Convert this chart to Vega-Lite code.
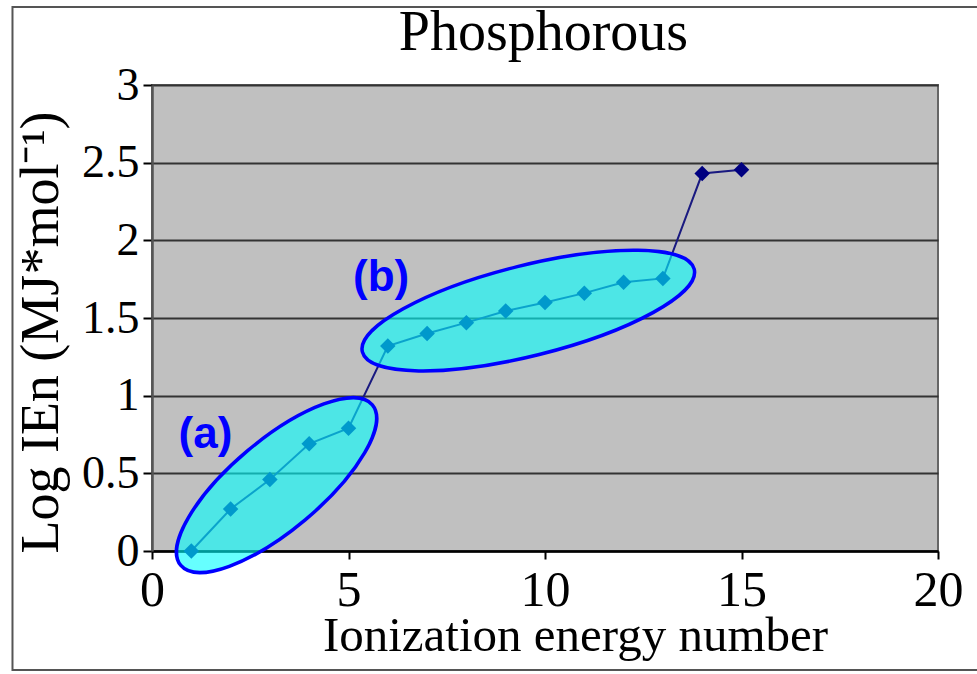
{
  "$schema": "https://vega.github.io/schema/vega-lite/v6.json",
  "autosize": {"type": "none"},
  "padding": {"left": 152, "top": 85, "right": 39, "bottom": 123},
  "width": 786,
  "height": 466,
  "background": "white",
  "config": {
    "view": {"fill": "#c0c0c0", "stroke": "#666666", "strokeWidth": 2}
  },
  "datasets": {
    "ie": [
      {"n": 1, "v": 0.0},
      {"n": 2, "v": 0.27},
      {"n": 3, "v": 0.46},
      {"n": 4, "v": 0.69},
      {"n": 5, "v": 0.79},
      {"n": 6, "v": 1.32},
      {"n": 7, "v": 1.40},
      {"n": 8, "v": 1.47},
      {"n": 9, "v": 1.545},
      {"n": 10, "v": 1.60},
      {"n": 11, "v": 1.66},
      {"n": 12, "v": 1.73},
      {"n": 13, "v": 1.755},
      {"n": 14, "v": 2.43},
      {"n": 15, "v": 2.455}
    ],
    "frame": [{"n": -3.55, "n2": 21.5, "v": -0.766, "v2": 3.502}],
    "heading": [{"n": 9.96, "v": 3.225, "label": "Phosphorous"}],
    "groupA": [{"n": 3.17, "v": 0.424}],
    "groupB": [{"n": 9.575, "v": 1.548}],
    "labels": [
      {"n": 1.36, "v": 0.749, "label": "(a)"},
      {"n": 5.83, "v": 1.756, "label": "(b)"}
    ]
  },
  "encoding": {
    "x": {
      "field": "n", "type": "quantitative",
      "scale": {"domain": [0, 20], "nice": false, "zero": false},
      "axis": {
        "title": "Ionization energy number",
        "values": [0, 5, 10, 15, 20],
        "grid": false,
        "domainColor": "black", "domainWidth": 2.5,
        "tickColor": "black", "tickWidth": 2, "tickSize": 8,
        "labelFont": "Liberation Serif", "labelFontSize": 50, "labelColor": "black",
        "labelBaseline": "alphabetic", "labelPadding": 46, "labelFlush": false,
        "titleFont": "Liberation Serif", "titleFontSize": 49, "titleFontWeight": "normal", "titleColor": "black",
        "titleX": 423, "titleY": 99, "titleBaseline": "alphabetic"
      }
    },
    "y": {
      "field": "v", "type": "quantitative",
      "scale": {"domain": [0, 3], "nice": false, "zero": false},
      "axis": {
        "title": "Log IEn (MJ*mol⁻¹)",
        "values": [0, 0.5, 1, 1.5, 2, 2.5, 3],
        "format": "~g",
        "grid": true, "gridColor": "#333333", "gridWidth": 2, "gridOpacity": 1,
        "domainColor": "#555555", "domainWidth": 2.5,
        "tickColor": "black", "tickWidth": 2, "tickSize": 9,
        "labelFont": "Liberation Serif", "labelFontSize": 46, "labelColor": "black",
        "labelPadding": 4, "labelBaseline": "middle",
        "titleFont": "Liberation Serif", "titleFontSize": 54, "titleFontWeight": "normal", "titleColor": "black",
        "titleX": -111, "titleY": 247, "titleBaseline": "middle", "titleAlign": "center", "titleAngle": -90
      }
    }
  },
  "layer": [
    {
      "data": {"name": "frame"},
      "mark": {"type": "rect", "fill": null, "fillOpacity": 0, "stroke": "#555555", "strokeWidth": 2, "clip": false},
      "encoding": {
        "x2": {"field": "n2"},
        "y2": {"field": "v2"}
      }
    },
    {
      "data": {"name": "heading"},
      "mark": {"type": "text", "font": "Liberation Serif", "fontSize": 56, "fontWeight": "normal", "color": "black", "align": "center", "baseline": "alphabetic", "clip": false},
      "encoding": {
        "text": {"field": "label"}
      }
    },
    {
      "data": {"name": "ie"},
      "mark": {"type": "line", "color": "#1a1a80", "strokeWidth": 2}
    },
    {
      "data": {"name": "ie"},
      "mark": {"type": "point", "shape": "diamond", "filled": true, "color": "#000080", "size": 240, "opacity": 1}
    },
    {
      "data": {"name": "groupA"},
      "mark": {
        "type": "point",
        "shape": "M -1 0 C -1 -0.1988 -0.5523 -0.36 0 -0.36 C 0.5523 -0.36 1 -0.1988 1 0 C 1 0.1988 0.5523 0.36 0 0.36 C -0.5523 0.36 -1 0.1988 -1 0 Z",
        "filled": true, "fill": "#00ffff", "fillOpacity": 0.6, "opacity": 1,
        "stroke": "#0000ff", "strokeWidth": 3.5, "strokeOpacity": 1,
        "size": 62500, "angle": 320
      }
    },
    {
      "data": {"name": "groupB"},
      "mark": {
        "type": "point",
        "shape": "M -1 0 C -1 -0.1464 -0.5523 -0.265 0 -0.265 C 0.5523 -0.265 1 -0.1464 1 0 C 1 0.1464 0.5523 0.265 0 0.265 C -0.5523 0.265 -1 0.1464 -1 0 Z",
        "filled": true, "fill": "#00ffff", "fillOpacity": 0.6, "opacity": 1,
        "stroke": "#0000ff", "strokeWidth": 3.5, "strokeOpacity": 1,
        "size": 116964, "angle": 346
      }
    },
    {
      "data": {"name": "labels"},
      "mark": {"type": "text", "font": "Liberation Sans", "fontWeight": "bold", "fontSize": 44, "color": "#0000ff", "align": "center", "baseline": "middle"},
      "encoding": {
        "text": {"field": "label"}
      }
    }
  ]
}
